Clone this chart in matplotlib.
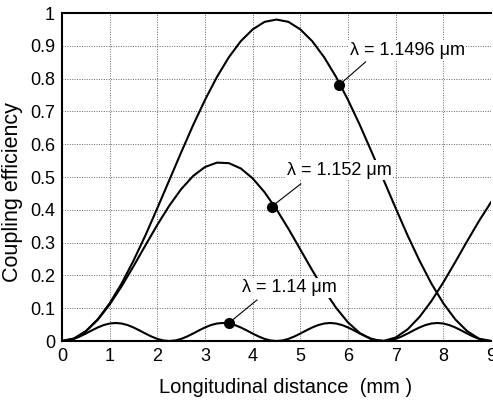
import numpy as np
import matplotlib
matplotlib.use("Agg")
import matplotlib.pyplot as plt

plt.rcParams['font.family'] = ['Liberation Sans', 'DejaVu Sans']

# distance (mm)
z_main = [i * 0.25 for i in range(37)]
z_fine = [i * 0.125 for i in range(73)]

# lambda = 1.1496 um
eff_11496 = [0, 0.007, 0.030, 0.066, 0.115, 0.175, 0.245, 0.322, 0.405, 0.490,
             0.575, 0.658, 0.735, 0.805, 0.865, 0.914, 0.950, 0.973, 0.980,
             0.973, 0.950, 0.914, 0.865, 0.805, 0.735, 0.658, 0.575, 0.490,
             0.405, 0.322, 0.245, 0.175, 0.115, 0.066, 0.030, 0.007, 0.0]

# lambda = 1.152 um
eff_1152 = [0, 0.0075, 0.0294, 0.0647, 0.1113, 0.1667, 0.2279, 0.2916, 0.3542,
            0.4124, 0.4629, 0.5030, 0.5305, 0.5438, 0.5423, 0.5261, 0.4959,
            0.4535, 0.4013, 0.3422, 0.2790, 0.2156, 0.1551, 0.1012, 0.0566,
            0.0239, 0.0048, 0.0003, 0.0107, 0.0355, 0.0732, 0.1218, 0.1787,
            0.2407, 0.3044, 0.3663, 0.4232]

# lambda = 1.14 um
eff_114 = [0, 0.0017, 0.0064, 0.0138, 0.0227, 0.0323, 0.0413, 0.0486, 0.0533, 0.055,
           0.0533, 0.0486, 0.0413, 0.0323, 0.0227, 0.0138, 0.0064, 0.0017,
           0, 0.0017, 0.0064, 0.0138, 0.0227, 0.0323, 0.0413, 0.0486, 0.0533, 0.055,
           0.0533, 0.0486, 0.0413, 0.0323, 0.0227, 0.0138, 0.0064, 0.0017,
           0, 0.0017, 0.0064, 0.0138, 0.0227, 0.0323, 0.0413, 0.0486, 0.0533, 0.055,
           0.0533, 0.0486, 0.0413, 0.0323, 0.0227, 0.0138, 0.0064, 0.0017,
           0, 0.0017, 0.0064, 0.0138, 0.0227, 0.0323, 0.0413, 0.0486, 0.0533, 0.055,
           0.0533, 0.0486, 0.0413, 0.0323, 0.0227, 0.0138, 0.0064, 0.0017, 0]

labels = ["λ = 1.1496 μm", "λ = 1.152 μm", "λ = 1.14 μm"]
marker_pts = [(5.81, 0.78), (4.40, 0.41), (3.50, 0.055)]
label_pos = [(6.04, 0.887), (4.72, 0.521), (3.78, 0.162)]
leader_end = [(6.37, 0.851), (5.01, 0.479), (4.09, 0.125)]

xticks = list(range(10))
yticks = [0, 0.1, 0.2, 0.3, 0.4, 0.5, 0.6, 0.7, 0.8, 0.9, 1.0]
yticklabels = ["0", "0.1", "0.2", "0.3", "0.4", "0.5", "0.6", "0.7", "0.8", "0.9", "1"]

fig = plt.figure(figsize=(4.93, 4.03), dpi=100)
ax = fig.add_axes([62/493, 1 - 341/403, (491 - 62)/493, (341 - 13)/403])

lw = 1.5
ax.plot(z_main, eff_11496, color='black', lw=lw, zorder=3)
ax.plot(z_main, eff_1152, color='black', lw=lw, zorder=3)
ax.plot(z_fine, eff_114, color='black', lw=lw, zorder=3)

for (mx, my), (tx, ty), (lx, ly), lab in zip(marker_pts, label_pos, leader_end, labels):
    ax.plot([mx, lx], [my, ly], color='black', lw=0.8, zorder=4)
    ax.plot([mx], [my], 'o', color='black', ms=7, zorder=5)
    ax.text(tx, ty, lab, fontsize=13, va='center', ha='left', zorder=6,
            bbox=dict(facecolor='white', edgecolor='none', pad=1.0))

ax.set_xlim(0, 9)
ax.set_ylim(0, 1)
ax.set_xticks(xticks)
ax.set_yticks(yticks)
ax.set_yticklabels(yticklabels)
ax.tick_params(length=0, labelsize=13, pad=5)
ax.grid(True, color='#666666', linestyle=(0, (1, 1.5)), linewidth=0.7)
ax.set_axisbelow(True)
for s in ax.spines.values():
    s.set_linewidth(1.5)
ax.spines['right'].set_visible(False)

ax.set_xlabel("Longitudinal distance  (mm )", fontsize=14.5)
ax.set_ylabel("Coupling efficiency", fontsize=15.5)
ax.xaxis.set_label_coords(0.522, -0.112)
ax.yaxis.set_label_coords(-0.091, 0.455)

fig.savefig("out.png", dpi=100)
